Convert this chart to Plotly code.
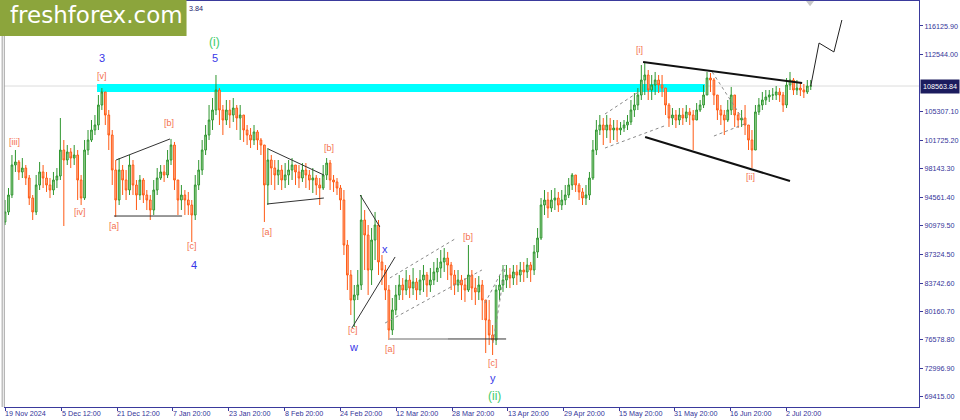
import plotly.graph_objects as go

# ---------------- data (daily bars) ----------------
opens = [
    91430, 92690, 94830, 98610, 98990, 97730, 98230, 96970, 94450, 92690,
    96090, 97730, 96970, 96090, 95460, 96720, 97220, 100500, 99240, 100250,
    99490, 99870, 96720, 94450, 100500, 101760, 103020, 103650, 106170, 107810,
    104910, 102390, 97980, 94200, 97980, 96720, 95460, 98610, 96090, 94830,
    96720, 94830, 94200, 92940, 95460, 96970, 97730, 97350, 99240, 101130,
    96720, 94200, 94830, 94200, 93570, 92310, 96090, 97980, 100500, 102390,
    104280, 105540, 108060, 105540, 104280, 105540, 104910, 105790, 104530, 104910,
    103020, 102390, 101760, 102770, 101760, 101130, 96090, 99240, 98230, 97350,
    97980, 96720, 97350, 97980, 98610, 97730, 96970, 97980, 97350, 96720,
    96970, 96090, 95710, 97350, 98860, 96720, 96470, 95710, 94200, 88530,
    84750, 81600, 82230, 83490, 91680, 89790, 85380, 89160, 91050, 86390,
    85380, 82860, 77820, 80340, 82230, 83490, 82860, 84120, 83110, 83870,
    82860, 84120, 84750, 83490, 84120, 85130, 85630, 86390, 86890, 86010,
    84750, 83490, 84120, 83490, 82860, 84750, 83110, 82610, 83490, 81600,
    79080, 77190, 76560, 82860, 83490, 84120, 84750, 84370, 85130, 84750,
    85380, 85130, 86010, 85380, 87650, 89410, 93570, 94200, 93190, 94200,
    94450, 93570, 94200, 94830, 96090, 97350, 96090, 95210, 94450, 94830,
    96970, 100500, 103020, 103650, 103020, 103650, 103020, 103270, 103020, 103270,
    103650, 104030, 105540, 106170, 107430, 109320, 109950, 108060, 108690, 109320,
    108690, 108310, 106170, 104530, 104910, 104280, 104910, 104530, 105290, 104910,
    104280, 105540, 106170, 107430, 109570, 109320, 107430, 105540, 104910, 104280,
    105540, 107430, 104910, 104280, 104530, 103650, 101760, 100500, 105290, 106170,
    106800, 107180, 107430, 107430, 107810, 107430, 106170, 108690, 109320, 108060,
    108310, 108060, 107810, 108560,
]
highs = [
    94200, 95710, 99870, 100500, 99240, 99490, 98610, 97350, 94830, 97350,
    98990, 98610, 97730, 96970, 97730, 98230, 104530, 101760, 101130, 100750,
    101130, 100500, 97350, 101760, 103020, 104280, 104910, 107430, 108310, 107810,
    105540, 103020, 99240, 99490, 98610, 97980, 99870, 99240, 96720, 97350,
    96970, 95460, 94830, 96720, 98230, 98610, 98610, 100500, 101890, 101510,
    96720, 96090, 95460, 95210, 94200, 97350, 99240, 101760, 103650, 106170,
    107050, 109950, 108310, 106170, 106800, 106800, 107050, 106170, 106170, 104910,
    103650, 103270, 103650, 103020, 102010, 101130, 100750, 99870, 99240, 99240,
    98610, 98860, 99240, 99490, 98610, 98610, 98860, 98860, 97980, 98230,
    97350, 96970, 98610, 99490, 99240, 97350, 96970, 96090, 95460, 89160,
    85380, 83490, 85380, 94830, 92940, 91050, 90670, 92690, 91680, 87270,
    86010, 83490, 81850, 83490, 84750, 84370, 85380, 84750, 85630, 84370,
    85380, 86010, 85130, 85630, 86390, 86890, 87900, 88150, 87650, 86390,
    85380, 85380, 84750, 84370, 88530, 85380, 84370, 84620, 84120, 81600,
    81600, 78450, 83490, 84750, 86010, 86010, 85630, 86010, 86010, 86390,
    86390, 86890, 86390, 88530, 90670, 94450, 95460, 95210, 95460, 95710,
    95210, 95460, 96090, 96970, 97600, 97350, 96340, 95710, 96090, 97730,
    101760, 104280, 104910, 104530, 104910, 104530, 104280, 104280, 104030, 104280,
    104910, 106800, 107680, 108310, 111210, 111590, 110580, 109950, 110330, 109950,
    109950, 108310, 106420, 105790, 105540, 105790, 105790, 106170, 105790, 105540,
    106420, 106800, 108690, 110330, 110200, 109570, 107430, 106170, 105540, 106800,
    108440, 107430, 105290, 105540, 106170, 103650, 103020, 106170, 107050, 107810,
    108060, 108060, 108310, 108560, 108310, 107810, 109570, 110330, 109570, 109320,
    109070, 108820, 109320, 109320,
]
lows = [
    91050, 92310, 94450, 97730, 96720, 96970, 96090, 93570, 91680, 92310,
    95460, 95710, 95210, 94450, 94830, 95710, 96720, 90920, 98610, 98230,
    98610, 94200, 93570, 94200, 99870, 101510, 102390, 103020, 105540, 103650,
    100500, 96090, 92060, 93570, 94830, 94200, 94830, 94830, 92940, 94200,
    93820, 92940, 91680, 92310, 94830, 96720, 96470, 96970, 98610, 95460,
    92310, 92940, 92310, 92310, 88910, 91680, 95460, 97350, 99870, 101760,
    103020, 104910, 103650, 102390, 103650, 103270, 104030, 103020, 101760, 101510,
    101130, 100750, 101130, 100500, 99870, 91430, 93570, 96090, 95460, 96090,
    95460, 95710, 96090, 96720, 96090, 95710, 96470, 95710, 95460, 95080,
    94830, 93570, 95460, 96720, 95460, 95210, 94830, 92940, 87270, 82860,
    79710, 78200, 81600, 82860, 85380, 82230, 83490, 86640, 84750, 83490,
    81600, 76560, 77190, 79710, 81600, 81600, 82230, 81850, 82230, 81600,
    82230, 82610, 81980, 82610, 83490, 83870, 84370, 85130, 84120, 82860,
    82230, 82610, 81600, 81350, 82610, 81600, 80970, 81600, 79080, 74920,
    75930, 74670, 75930, 81600, 82610, 83110, 83110, 83490, 83490, 83870,
    83870, 84370, 83870, 84750, 86890, 89160, 92310, 91930, 92690, 92940,
    92690, 92940, 93570, 94450, 95460, 95210, 94200, 93570, 93570, 94200,
    96720, 99870, 102390, 101130, 102010, 101380, 101760, 101510, 102390, 102770,
    103020, 103650, 104660, 105540, 106800, 107430, 106800, 106800, 107430, 107680,
    107180, 104910, 103400, 103650, 103270, 103650, 103650, 104030, 103650, 100500,
    104280, 105290, 105790, 107430, 107810, 106170, 104280, 103650, 102390, 104030,
    104910, 103400, 103270, 103400, 102390, 100500, 98230, 100500, 104910, 105540,
    106170, 106550, 106800, 106800, 106550, 105290, 105790, 108060, 107430, 107430,
    107300, 107050, 107560, 108060,
]
closes = [
    92690, 94830, 98610, 98990, 97730, 98230, 96970, 94450, 92690, 96090,
    97730, 96970, 96090, 95460, 96720, 97220, 100500, 99240, 100250, 99490,
    99870, 96720, 94450, 100500, 101760, 103020, 103650, 106170, 107810, 104910,
    102390, 97980, 94200, 97980, 96720, 95460, 98610, 96090, 94830, 96720,
    94830, 94200, 92940, 95460, 96970, 97730, 97350, 99240, 101130, 96720,
    94200, 94830, 94200, 93570, 92310, 96090, 97980, 100500, 102390, 104280,
    105540, 108060, 105540, 104280, 105540, 104910, 105790, 104530, 104910, 103020,
    102390, 101760, 102770, 101760, 101130, 96090, 99240, 98230, 97350, 97980,
    96720, 97350, 97980, 98610, 97730, 96970, 97980, 97350, 96720, 96970,
    96090, 95710, 97350, 98860, 96720, 96470, 95710, 94200, 88530, 84750,
    81600, 82230, 83490, 91680, 89790, 85380, 89160, 91050, 86390, 85380,
    82860, 77820, 80340, 82230, 83490, 82860, 84120, 83110, 83870, 82860,
    84120, 84750, 83490, 84120, 85130, 85630, 86390, 86890, 86010, 84750,
    83490, 84120, 83490, 82860, 84750, 83110, 82610, 83490, 81600, 79080,
    77190, 76560, 82860, 83490, 84120, 84750, 84370, 85130, 84750, 85380,
    85130, 86010, 85380, 87650, 89410, 93570, 94200, 93190, 94200, 94450,
    93570, 94200, 94830, 96090, 97350, 96090, 95210, 94450, 94830, 96970,
    100500, 103020, 103650, 103020, 103650, 103020, 103270, 103020, 103270, 103650,
    104030, 105540, 106170, 107430, 109320, 109950, 108060, 108690, 109320, 108690,
    108310, 106170, 104530, 104910, 104280, 104910, 104530, 105290, 104910, 104280,
    105540, 106170, 107430, 109570, 109320, 107430, 105540, 104910, 104280, 105540,
    107430, 104910, 104280, 104530, 103650, 101760, 100500, 105290, 106170, 106800,
    107180, 107430, 107430, 107810, 107430, 106170, 108690, 109320, 108060, 108310,
    108060, 107810, 108560, 108563.84,
]
assert len(opens) == len(highs) == len(lows) == len(closes)
bar_index = list(range(len(closes)))

date_labels = ["19 Nov 2024", "5 Dec 12:00", "21 Dec 12:00", "7 Jan 20:00", "23 Jan 20:00",
               "8 Feb 20:00", "24 Feb 20:00", "12 Mar 20:00", "28 Mar 20:00", "13 Apr 20:00",
               "29 Apr 20:00", "15 May 20:00", "31 May 20:00", "16 Jun 20:00", "2 Jul 20:00"]
date_positions = [0, 16.34, 32.39, 48.5, 64.69, 80.83, 96.96, 113.07, 129.27, 145.37,
                  161.57, 177.56, 193.55, 209.75, 225.85]

price_ticks = [116125.90, 112544.00, 105307.10, 101725.20, 98143.30, 94561.40, 90979.50,
               87324.50, 83742.60, 80160.70, 76578.80, 72996.90, 69415.00]
last_price = 108563.84

# resistance zone
zone_x = [26.6, 202.4]
zone_y = [107808, 108816]

# forecast path
proj_x = [233, 235.4, 239.7, 242.0]
proj_y = [108563.84, 113980, 112850, 116880]

# chart-shift marker at the top edge
shift_x = [232.8]
shift_y = [119050]

# wave labels: text, bar position, price, kind
wave_text = ["[iii]", "[iv]", "[v]", "3", "[a]", "[b]", "[c]", "4", "5", "(i)",
             "[a]", "[b]", "[c]", "w", "x", "[a]", "[b]", "[c]", "y", "(ii)", "[i]", "[ii]"]
wave_x = [2.6, 21.7, 28.1, 28.1, 31.5, 47.4, 54.1, 54.7, 60.7, 60.7,
          75.8, 93.7, 100.6, 100.9, 109.9, 111.3, 133.9, 141.1, 141.1, 141.4, 183.6, 215.7]
wave_y = [101510, 92690, 109820, 112090, 90920, 103900, 88400, 86010, 112090, 114110,
          90170, 100750, 77820, 75680, 88030, 75430, 89540, 73660, 71770, 69500, 113100, 97100]
wave_kind = ["m", "m", "m", "b", "m", "m", "m", "b", "b", "g",
             "m", "m", "m", "b", "b", "m", "m", "m", "b", "g", "m", "m"]

# trend lines: x0, y0, x1, y1, style
lines_x0 = [32.1, 31.5, 76.1, 75.8, 102.7, 100.3, 111.3, 109.9, 111.0, 128.1,
            138.8, 141.1, 173.5, 173.5, 184.5, 185.1, 204.5, 205.0]
lines_y0 = [99240, 92180, 100630, 93700, 94830, 78070, 84380, 78700, 76690, 76690,
            81220, 76180, 105040, 100750, 111590, 102140, 110330, 102260]
lines_x1 = [47.7, 51.2, 92.2, 92.2, 108.4, 112.8, 130.1, 137.9, 128.1, 144.9,
            144.6, 144.6, 183.6, 190.6, 230.5, 227.0, 213.7, 214.6]
lines_y1 = [101890, 92180, 97350, 94450, 90800, 87020, 89290, 85380, 76690, 76690,
            86010, 85630, 107930, 103520, 108940, 96590, 104150, 103900]
lines_style = ["thin", "thin", "thin", "thin", "thin", "thin", "dot", "dot", "grey", "thin",
               "dot", "dot", "dot", "dot", "thick", "thick", "dot", "dot"]

# ---------------- figure ----------------
AXIS = "#3a3a9c"
TXT = "#333399"
SMALL = 7.2

fig = go.Figure()
fig.add_trace(go.Candlestick(
    x=bar_index, open=opens, high=highs, low=lows, close=closes,
    increasing=dict(line=dict(color="#2f962f", width=1), fillcolor="#a9d9a2"),
    decreasing=dict(line=dict(color="#ff5a14", width=1), fillcolor="#ffb294"),
    whiskerwidth=0, hoverinfo="skip", showlegend=False,
))
fig.add_trace(go.Scatter(x=proj_x, y=proj_y, mode="lines",
                         line=dict(color="#222222", width=1), hoverinfo="skip", showlegend=False))
fig.add_trace(go.Scatter(x=shift_x, y=shift_y, mode="markers", cliponaxis=False,
                         marker=dict(symbol="triangle-down", size=7, color="#c8c8c8"),
                         hoverinfo="skip", showlegend=False))

shapes = []
shapes.append(dict(type="rect", xref="x", yref="y", x0=zone_x[0], x1=zone_x[1],
                   y0=zone_y[0], y1=zone_y[1], fillcolor="#00ffff", line=dict(width=0), layer="below"))
shapes.append(dict(type="line", xref="paper", yref="y", x0=0, x1=1, y0=last_price, y1=last_price,
                   line=dict(color="#dcdcdc", width=1), layer="below"))
style_map = {
    "thin": dict(color="#333333", width=1),
    "thick": dict(color="#111111", width=2),
    "dot": dict(color="#8a8a8a", width=1, dash="dot"),
    "grey": dict(color="#b4b4b4", width=2),
}
for x0, y0, x1, y1, st in zip(lines_x0, lines_y0, lines_x1, lines_y1, lines_style):
    shapes.append(dict(type="line", xref="x", yref="y", x0=x0, y0=y0, x1=x1, y1=y1,
                       line=style_map[st], layer="above"))
shapes.append(dict(type="line", xref="paper", yref="paper", x0=-0.002, x1=-0.002, y0=0, y1=1,
                   line=dict(color="#a0a0a0", width=1)))
shapes.append(dict(type="line", xref="paper", yref="paper", x0=0.0003, x1=0.0003, y0=0, y1=1,
                   line=dict(color="#a0a0a0", width=1)))
shapes.append(dict(type="rect", xref="paper", yref="paper", x0=-0.01, x1=0.1995, y0=0.914, y1=1.01,
                   fillcolor="#8ca53c", line=dict(width=0), layer="above"))

annotations = []
colors = {"m": "#f4704e", "b": "#3838e8", "g": "#3ccc6a"}
sizes = {"m": 9, "b": 11, "g": 12}
for t, x, y, k in zip(wave_text, wave_x, wave_y, wave_kind):
    annotations.append(dict(x=x, y=y, xref="x", yref="y", text=t, showarrow=False,
                            font=dict(family="Liberation Sans", size=sizes[k], color=colors[k])))
for lab, pos in zip(date_labels, date_positions):
    annotations.append(dict(x=pos, y=0, xref="x", yref="paper", text=lab, showarrow=False,
                            xanchor="left", yanchor="top", xshift=-2, yshift=0,
                            font=dict(family="Liberation Sans", size=SMALL, color=TXT)))
annotations.append(dict(x=1, y=last_price, xref="paper", yref="y", text=f"{last_price:.2f}",
                        showarrow=False, xanchor="left", xshift=1, bgcolor="#1c1c5e", borderpad=2,
                        font=dict(family="Liberation Sans", size=SMALL, color="white")))
annotations.append(dict(x=0.0, y=1, xref="paper", yref="paper", text="freshforex.com",
                        showarrow=False, xanchor="left", yanchor="top", xshift=4, yshift=1,
                        font=dict(family="DejaVu Sans", size=23, color="white")))
annotations.append(dict(x=0.2, y=1, xref="paper", yref="paper", text="3.84",
                        showarrow=False, xanchor="left", yanchor="top", xshift=0, yshift=-1,
                        font=dict(family="Liberation Sans", size=SMALL, color="#1a1a6a")))

fig.update_layout(
    width=960, height=420,
    margin=dict(l=4, r=41, t=1, b=13),
    paper_bgcolor="white", plot_bgcolor="white",
    showlegend=False,
    shapes=shapes, annotations=annotations,
    xaxis=dict(range=[-0.3, 264.3], showgrid=False, zeroline=False, showline=True,
               linecolor=AXIS, linewidth=1, mirror=True, ticks="outside", ticklen=3,
               tickcolor=AXIS, tickvals=date_positions, showticklabels=False,
               rangeslider=dict(visible=False), fixedrange=True),
    yaxis=dict(range=[68118, 119274], side="right", showgrid=False, zeroline=False,
               showline=True, linecolor=AXIS, linewidth=1, ticks="outside", ticklen=3,
               tickcolor=AXIS, tickvals=price_ticks, ticktext=[f"{v:.2f}" for v in price_ticks],
               tickfont=dict(family="Liberation Sans", size=SMALL, color=TXT), fixedrange=True),
)

fig.write_html("out.html", config={"displayModeBar": False},
               post_script="document.body.style.margin='0';document.body.style.overflow='hidden';")
